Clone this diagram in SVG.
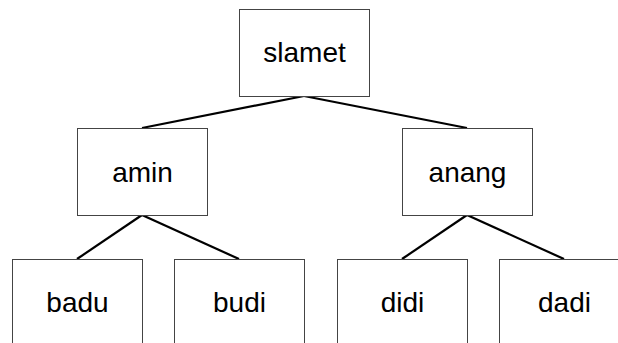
<svg xmlns="http://www.w3.org/2000/svg" width="618" height="343" viewBox="0 0 618 343">
<style>
.box{fill:#fff;stroke:#444;stroke-width:1}
.lbl{font-family:"Liberation Sans",Arial,sans-serif;font-size:28px;fill:#000;text-anchor:middle}
.edge{stroke:#000;stroke-width:2.2;fill:none}
</style>
<rect width="618" height="343" fill="#fff"/>
<g id="connectors">
<line class="edge" x1="304" y1="96" x2="142" y2="128"/>
<line class="edge" x1="304" y1="96" x2="467" y2="128"/>
<line class="edge" x1="142" y1="215" x2="77" y2="259"/>
<line class="edge" x1="142" y1="215" x2="239" y2="259"/>
<line class="edge" x1="467" y1="215" x2="402" y2="259"/>
<line class="edge" x1="467" y1="215" x2="564" y2="259"/>
</g>
<g id="slamet"><rect class="box" x="239.5" y="9.5" width="130" height="87"/><text class="lbl" x="304.5" y="62">slamet</text></g>
<g id="amin"><rect class="box" x="77.5" y="128.5" width="130" height="87"/><text class="lbl" x="142.5" y="182">amin</text></g>
<g id="anang"><rect class="box" x="402.5" y="128.5" width="130" height="87"/><text class="lbl" x="467.5" y="182">anang</text></g>
<g id="badu"><rect class="box" x="12.5" y="259.5" width="130" height="87"/><text class="lbl" x="77.5" y="312">badu</text></g>
<g id="budi"><rect class="box" x="174.5" y="259.5" width="130" height="87"/><text class="lbl" x="239.5" y="312">budi</text></g>
<g id="didi"><rect class="box" x="337.5" y="259.5" width="130" height="87"/><text class="lbl" x="402.5" y="312">didi</text></g>
<g id="dadi"><rect class="box" x="499.5" y="259.5" width="130" height="87"/><text class="lbl" x="564.5" y="312">dadi</text></g>
</svg>
